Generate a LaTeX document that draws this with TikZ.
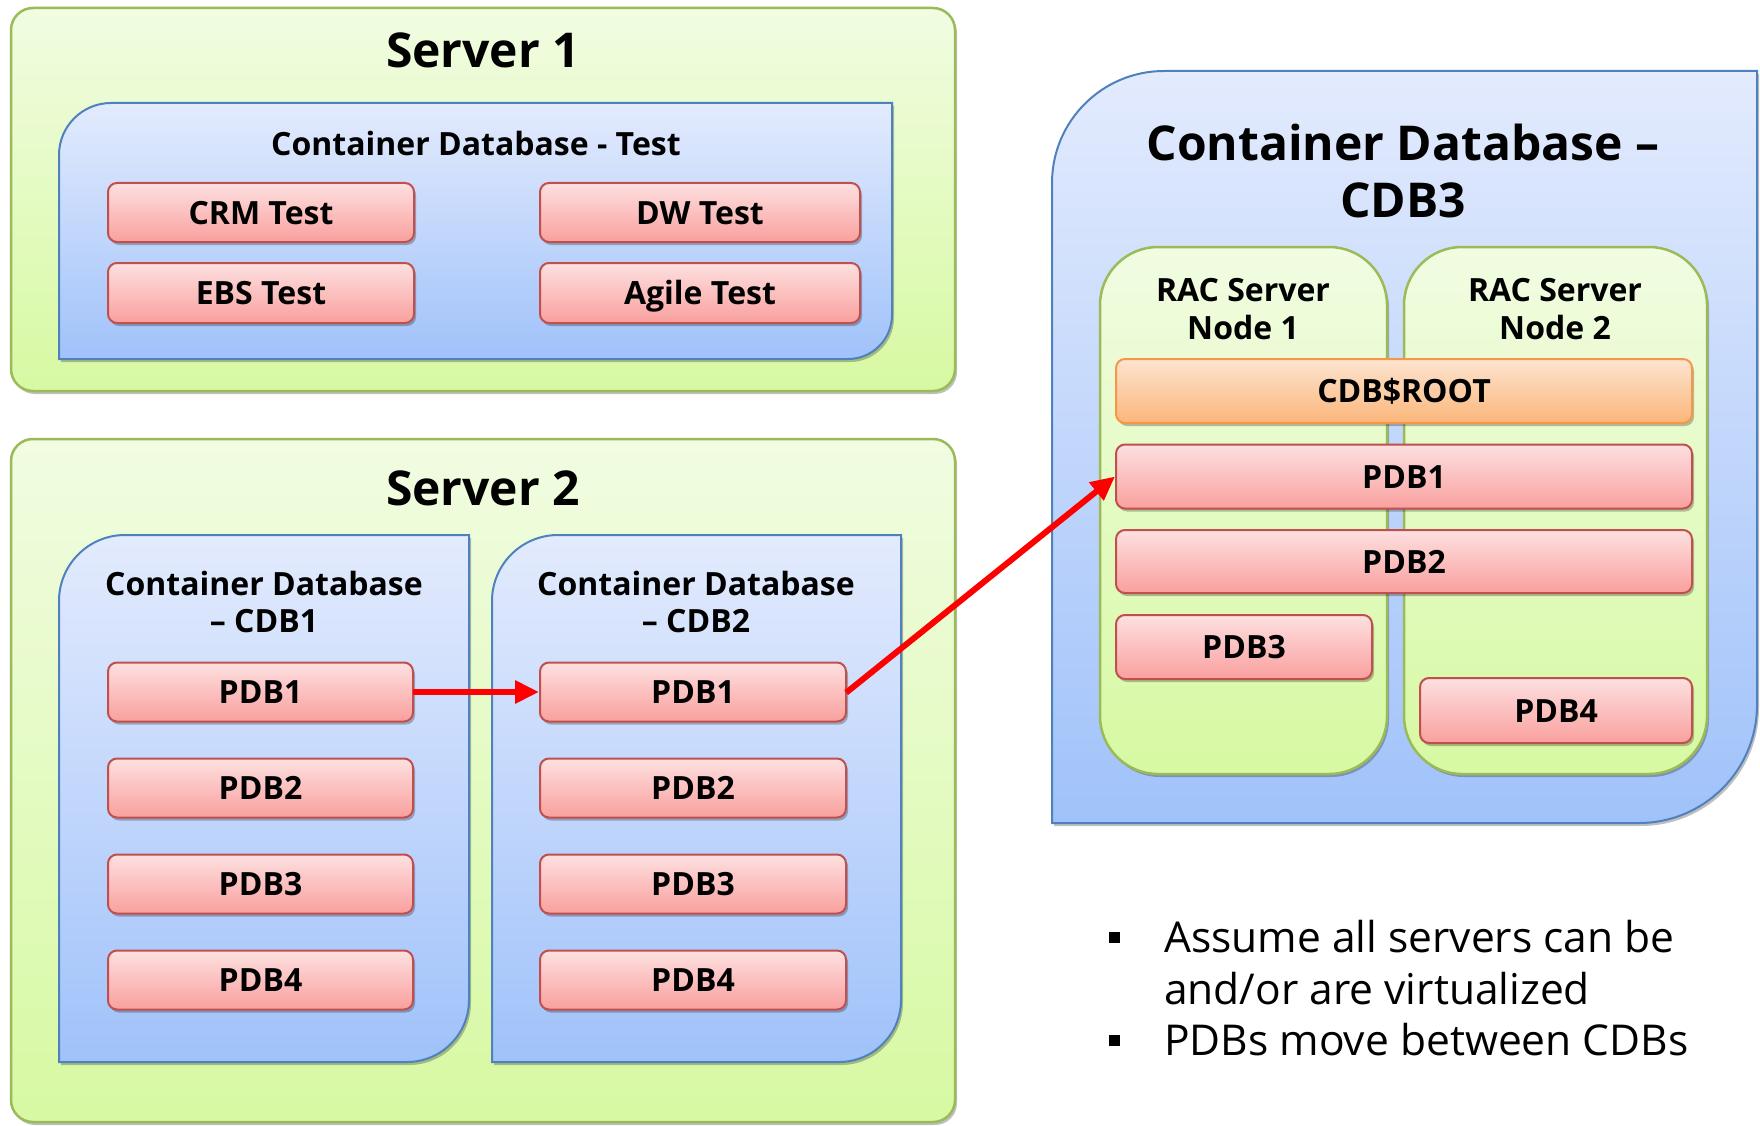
\documentclass[tikz,border=0pt]{standalone}
\usepackage{fontspec}
\setmainfont{Open Sans}
\usetikzlibrary{arrows.meta,shadows}

\definecolor{grnTop}{RGB}{241,252,226}
\definecolor{grnBot}{RGB}{215,249,162}
\definecolor{grnLine}{RGB}{155,187,89}
\definecolor{bluTop}{RGB}{227,235,253}
\definecolor{bluBot}{RGB}{160,194,250}
\definecolor{bluLine}{RGB}{79,129,189}
\definecolor{pnkTop}{RGB}{253,224,224}
\definecolor{pnkBot}{RGB}{249,160,158}
\definecolor{pnkLine}{RGB}{192,80,77}
\definecolor{orgTop}{RGB}{253,228,208}
\definecolor{orgBot}{RGB}{251,182,122}
\definecolor{orgLine}{RGB}{247,150,70}

\newcommand\cdbshape[7]{%
  \path[#7] (#1,#4) -- (#1,{#2+#5}) .. controls (#1,{#2+0.448*#5}) and ({#1+0.448*#5},#2) .. ({#1+#5},#2)
   -- (#3,#2) -- (#3,{#4-#6}) .. controls (#3,{#4-0.448*#6}) and ({#3-0.448*#6},#4) .. ({#3-#6},#4) -- cycle;}

\tikzset{
  shad/.style={drop shadow={shadow xshift=2pt, shadow yshift=-3pt, opacity=0.25, fill=black}},
  srv/.style={draw=grnLine, line width=2.5pt, top color=grnTop, bottom color=grnBot, shad, inner sep=0pt},
  cdb/.style={draw=bluLine, line width=2pt, top color=bluTop, bottom color=bluBot, shad},
  pdb/.style={draw=pnkLine, line width=2pt, rounded corners=9pt, top color=pnkTop, bottom color=pnkBot,
    shad, inner sep=0pt, text height=23pt, text depth=0pt, font=\fontsize{32}{36}\selectfont\bfseries},
  root/.style={pdb, draw=orgLine, top color=orgTop, bottom color=orgBot},
  bigtitle/.style={font=\fontsize{48}{57}\selectfont\bfseries, align=center, inner sep=0pt},
  midtitle/.style={font=\fontsize{32}{37}\selectfont\bfseries, align=center, inner sep=0pt},
  mv/.style={draw=red, line width=6pt, -{Triangle[length=24pt,width=22pt]}, shorten <=-1pt},
  bul/.style={fill=black, minimum size=11pt, inner sep=0pt},
  btext/.style={font=\fontsize{42.5}{52}\selectfont, align=left, anchor=west, inner sep=0pt},
}

\begin{document}
\begin{tikzpicture}[x=1pt,y=-1pt]
\useasboundingbox (0,0) rectangle (1760,1126);

% Server 1
\node[srv, rounded corners=22pt, minimum width=944pt, minimum height=383pt] (srv1) at (483,199.5) {};
\node[bigtitle] (srv1t) at (483,50) {Server 1};
\cdbshape{59}{103}{892}{359}{52}{44}{cdb}
\node[midtitle] (cdbtt) at (476,144) {Container Database - Test};
\node[pdb, minimum width=306pt, minimum height=59pt] (crm) at (261,212.5) {CRM Test};
\node[pdb, minimum width=320pt, minimum height=59pt] (dw) at (700,212.5) {DW Test};
\node[pdb, minimum width=306pt, minimum height=60pt] (ebs) at (261,293) {EBS Test};
\node[pdb, minimum width=320pt, minimum height=60pt] (agile) at (700,293) {Agile Test};

% Server 2
\node[srv, rounded corners=22pt, minimum width=944pt, minimum height=683pt] (srv2) at (483,780.5) {};
\node[bigtitle] (srv2t) at (483,488) {Server 2};
\cdbshape{59}{535}{469}{1062}{66}{62}{cdb}
\cdbshape{492}{535}{901}{1062}{66}{62}{cdb}
\node[midtitle] (cdb1t) at (264,602) {Container Database\\– CDB1};
\node[midtitle] (cdb2t) at (696,602) {Container Database\\– CDB2};
\foreach \i/\y in {1/692,2/788,3/884,4/980}{
  \node[pdb, minimum width=305pt, minimum height=59pt] (a\i) at (260.5,\y) {PDB\i};
  \node[pdb, minimum width=306pt, minimum height=59pt] (b\i) at (693,\y) {PDB\i};
}

% CDB3
\cdbshape{1052}{71}{1757}{823}{112}{118}{cdb}
\node[bigtitle] (cdb3t) at (1403,171) {Container Database –\\CDB3};
\node[srv, rounded corners=58pt, minimum width=287pt, minimum height=527pt] (rac1) at (1243.5,510.5) {};
\node[srv, rounded corners=58pt, minimum width=303pt, minimum height=527pt] (rac2) at (1555.5,510.5) {};
\node[midtitle, font=\fontsize{32}{38}\selectfont\bfseries] (rac1t) at (1243,309) {RAC Server\\Node 1};
\node[midtitle, font=\fontsize{32}{38}\selectfont\bfseries] (rac2t) at (1555,309) {RAC Server\\Node 2};
\node[root, minimum width=576pt, minimum height=64pt] (croot) at (1404,391) {CDB\$ROOT};
\node[pdb, minimum width=576pt, minimum height=64pt] (c1) at (1404,476.5) {PDB1};
\node[pdb, minimum width=576pt, minimum height=63pt] (c2) at (1404,561.5) {PDB2};
\node[pdb, minimum width=256pt, minimum height=64pt] (c3) at (1244,647) {PDB3};
\node[pdb, minimum width=272pt, minimum height=65pt] (c4) at (1556,710.5) {PDB4};

% arrows
\draw[mv] (a1.east) -- (b1.west);
\draw[mv] (b1.east) -- (c1.west);

% bullets
\node[bul] (bl1) at (1114,937) {};
\node[bul] (bl2) at (1114,1040) {};
\node[btext] (bt1) at (1164,963) {Assume all servers can be\\and/or are virtualized};
\node[btext] (bt2) at (1164,1040) {PDBs move between CDBs};
\end{tikzpicture}
\end{document}
